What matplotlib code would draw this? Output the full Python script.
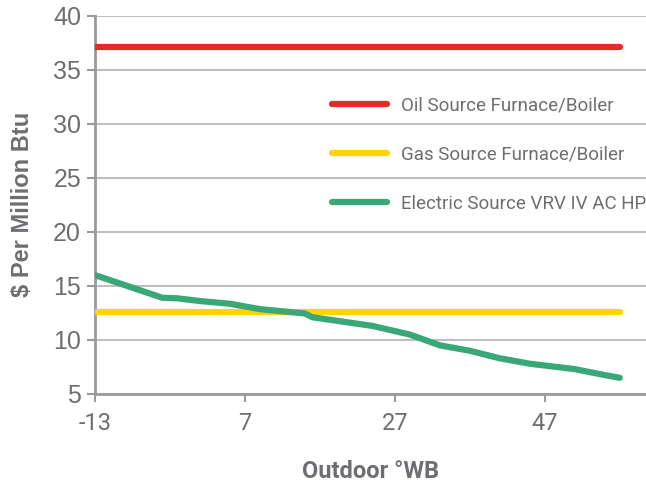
import matplotlib.pyplot as plt
from matplotlib.lines import Line2D

# data
wb_temps = [-13, -10, -4, -2, 1, 5, 9, 15, 16, 24, 29, 33, 37, 41, 45, 51, 55, 57]
electric_cost = [16.0, 15.3, 13.9, 13.85, 13.6, 13.35, 12.85, 12.45, 12.1, 11.3,
                 10.5, 9.5, 9.0, 8.3, 7.8, 7.3, 6.75, 6.5]
flat_temps = [-13, 57]
oil_cost = [37.1, 37.1]
gas_cost = [12.6, 12.6]

series_names = ["Oil Source Furnace/Boiler", "Gas Source Furnace/Boiler",
                "Electric Source VRV IV AC HP"]
x_ticks = [-13, 7, 27, 47]
y_ticks = [5, 10, 15, 20, 25, 30, 35, 40]

red = '#e32b27'
yellow = '#ffd400'
green = '#3aa777'
text_grey = '#6d6e71'
grid_grey = '#bfbfbf'
narrow = ['Roboto', 'DejaVu Sans']
regular = ['Liberation Sans', 'DejaVu Sans']

fig = plt.figure(figsize=(6.46, 4.82), dpi=100)
ax = fig.add_axes([0.147, 0.1826, 0.853, 0.7848])

lw = 4.5
ax.plot(flat_temps, oil_cost, color=red, lw=lw, solid_capstyle='round', zorder=3)
ax.plot(flat_temps, gas_cost, color=yellow, lw=lw, solid_capstyle='round', zorder=3)
ax.plot(wb_temps, electric_cost, color=green, lw=lw, solid_capstyle='round',
        solid_joinstyle='round', zorder=4)

ax.set_xlim(-13, 60.5)
ax.set_ylim(5, 40)
ax.set_xticks(x_ticks)
ax.set_yticks(y_ticks)
ax.set_xticklabels([str(t) for t in x_ticks], family=narrow, fontsize=17, color=text_grey)
ax.set_yticklabels([str(t) for t in y_ticks], family=regular, fontsize=18, color=text_grey)
ax.tick_params(axis='both', direction='out', length=6, width=1.5, color='#9a9a9a')
ax.tick_params(axis='x', pad=7)
ax.tick_params(axis='y', pad=4)

ax.grid(axis='y', color=grid_grey, lw=1.5)
ax.set_axisbelow(True)
for side in ['top', 'right']:
    ax.spines[side].set_visible(False)
for side in ['left', 'bottom']:
    ax.spines[side].set_color('#9a9a9a')
    ax.spines[side].set_linewidth(2)

ax.set_xlabel('Outdoor °WB', family=narrow, fontsize=17, fontweight='bold',
              color=text_grey, labelpad=18)
ax.set_ylabel('$ Per Million Btu', family=regular, fontsize=17, fontweight='bold',
              color=text_grey, labelpad=14)

handles = [Line2D([0], [0], color=c, lw=lw, solid_capstyle='round')
           for c in [red, yellow, green]]
leg = ax.legend(handles, series_names, loc='upper left', bbox_to_anchor=(0.40, 0.83),
                frameon=False, handlelength=2.9, handletextpad=0.75, labelspacing=1.65,
                prop={'family': narrow, 'size': 13.5})
for t in leg.get_texts():
    t.set_color(text_grey)

plt.savefig('out.png', dpi=100)
